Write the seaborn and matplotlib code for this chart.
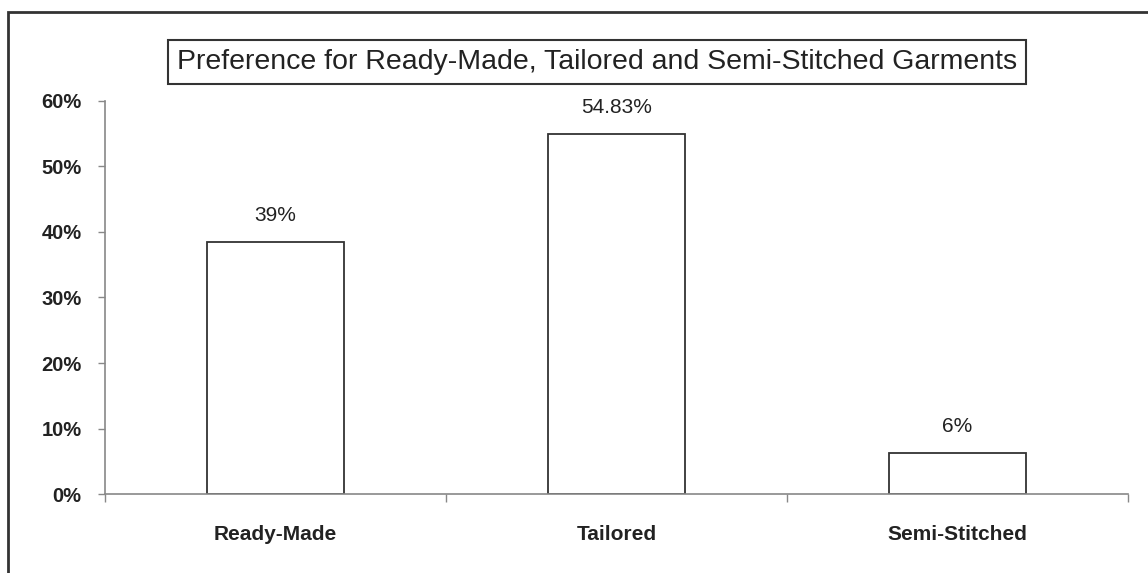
import matplotlib
matplotlib.use("Agg")
import matplotlib.pyplot as plt
from matplotlib.patches import Rectangle
import seaborn as sns

categories = ["Ready-Made", "Tailored", "Semi-Stitched"]
shares = [38.4, 54.83, 6.3]
share_labels = ["39%", "54.83%", "6%"]
y_ticks = [0, 10, 20, 30, 40, 50, 60]

sns.set_style("white")
plt.rcParams['font.family'] = ['Liberation Sans', 'DejaVu Sans']

fig = plt.figure(figsize=(11.48, 5.73), dpi=100)
ax = fig.add_axes([105 / 1148, 1 - 494.3 / 573, 1023 / 1148, 393.8 / 573])

sns.barplot(x=categories, y=shares, color="white", edgecolor="#333333",
            linewidth=1.3, width=0.4, saturation=1, ax=ax)

for i, (v, lab) in enumerate(zip(shares, share_labels)):
    ax.text(i, v + 2.6, lab, ha="center", va="bottom", fontsize=15, color="#222222")

ax.set_xlim(-0.5, 2.5)
ax.set_ylim(0, 60)
ax.set_yticks(y_ticks)
ax.set_yticklabels([f"{t}%" for t in y_ticks], fontsize=14.5, fontweight="bold", color="#222222")
ax.tick_params(axis="y", length=5, width=1, color="#888888", pad=12, left=True)
ax.set_xticks([-0.5, 0.5, 1.5, 2.5], minor=False)
ax.set_xticklabels([])
ax.set_xticks([0, 1, 2], minor=True)
ax.set_xticklabels(categories, minor=True, fontsize=15, fontweight="bold", color="#222222")
ax.tick_params(axis="x", which="major", length=6, width=1, color="#888888", bottom=True)
ax.tick_params(axis="x", which="minor", length=0, pad=22)
ax.set_xlabel("")
ax.set_ylabel("")

for s in ["top", "right"]:
    ax.spines[s].set_visible(False)
for s in ["left", "bottom"]:
    ax.spines[s].set_color("#888888")
    ax.spines[s].set_linewidth(1.2)

fig.text(597 / 1148, 1 - 62 / 573,
         "Preference for Ready-Made, Tailored and Semi-Stitched Garments",
         ha="center", va="center", fontsize=20.5, color="#222222",
         bbox=dict(boxstyle="square,pad=0.3", facecolor="white", edgecolor="#333333", linewidth=1.5))

fig.add_artist(Rectangle((8 / 1148, -0.1), 1.5, 1 - 12 / 573 + 0.1,
                         transform=fig.transFigure, fill=False,
                         edgecolor="#333333", linewidth=2))

fig.savefig("out.png", dpi=100)
